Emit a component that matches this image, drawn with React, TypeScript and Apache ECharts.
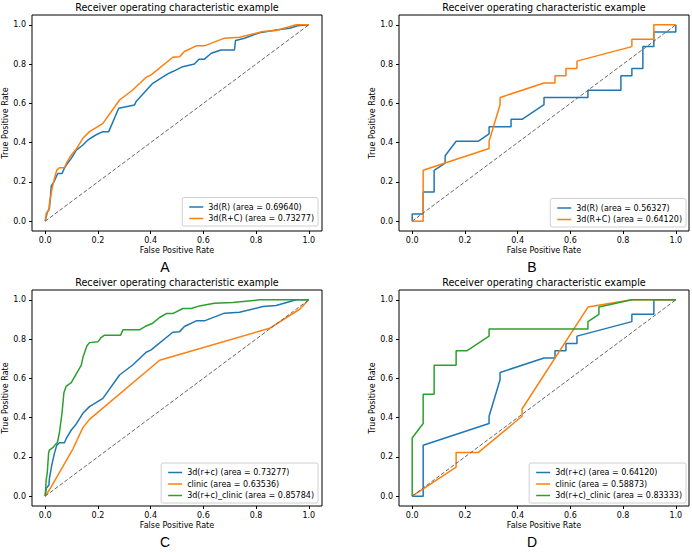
import React, { useEffect, useRef } from "react";
import * as echarts from "echarts";

const TITLE = "Receiver operating characteristic example";
const PANEL_LETTERS = ["A", "B", "C", "D"];
const TICK_VALUES = [0, 0.2, 0.4, 0.6, 0.8, 1.0];
const X_NAME = "False Positive Rate";
const Y_NAME = "True Positive Rate";

const DIAG_FPR = [0, 1];
const DIAG_TPR = [0, 1];

// Panel A: 3d(R) curve (area 0.69640)
const fprA_R = [0, 0.008, 0.016, 0.019, 0.023, 0.033, 0.042, 0.048, 0.064, 0.073, 0.08, 0.099, 0.118, 0.143, 0.162, 0.181, 0.193, 0.219, 0.241, 0.279, 0.339, 0.345, 0.408, 0.465, 0.484, 0.522, 0.566, 0.583, 0.604, 0.63, 0.667, 0.718, 0.722, 0.756, 0.813, 0.876, 0.927, 0.958, 1];
const tprA_R = [0, 0.046, 0.065, 0.107, 0.18, 0.2, 0.226, 0.243, 0.243, 0.27, 0.286, 0.32, 0.362, 0.388, 0.413, 0.43, 0.44, 0.456, 0.456, 0.575, 0.592, 0.609, 0.702, 0.75, 0.762, 0.787, 0.8, 0.825, 0.825, 0.855, 0.872, 0.872, 0.92, 0.932, 0.96, 0.974, 0.983, 0.995, 1];

// 3d(R+C) on the large set (area 0.73277), used in A and C
const fprRC1 = [0, 0.004, 0.014, 0.016, 0.025, 0.035, 0.044, 0.054, 0.073, 0.08, 0.099, 0.115, 0.143, 0.168, 0.193, 0.219, 0.282, 0.332, 0.383, 0.402, 0.484, 0.51, 0.528, 0.573, 0.604, 0.68, 0.737, 0.826, 0.876, 0.952, 1];
const tprRC1 = [0, 0.04, 0.056, 0.09, 0.158, 0.218, 0.26, 0.272, 0.272, 0.294, 0.337, 0.362, 0.422, 0.456, 0.476, 0.498, 0.617, 0.668, 0.733, 0.745, 0.835, 0.838, 0.864, 0.893, 0.893, 0.932, 0.937, 0.966, 0.971, 1, 1];

// Panel B: 3d(R) (area 0.56327)
const fprB_R = [0, 0, 0.0417, 0.0417, 0.0833, 0.0833, 0.125, 0.125, 0.1667, 0.25, 0.2917, 0.2917, 0.375, 0.375, 0.4167, 0.5, 0.5, 0.6667, 0.6667, 0.7917, 0.7917, 0.8333, 0.8333, 0.875, 0.875, 0.9167, 0.9167, 1, 1];
const tprB_R = [0, 0.037, 0.037, 0.148, 0.148, 0.259, 0.296, 0.333, 0.407, 0.407, 0.444, 0.481, 0.481, 0.519, 0.519, 0.593, 0.63, 0.63, 0.667, 0.667, 0.741, 0.741, 0.778, 0.778, 0.889, 0.889, 0.963, 0.963, 1];

// 3d(R+C) on the small set (area 0.64120), used in B and D
const fprRC2 = [0, 0.0417, 0.0417, 0.2917, 0.2917, 0.3333, 0.3333, 0.5, 0.5417, 0.5417, 0.5833, 0.5833, 0.625, 0.625, 0.8333, 0.8333, 0.9167, 0.9167, 1];
const tprRC2 = [0, 0, 0.259, 0.37, 0.407, 0.593, 0.63, 0.704, 0.704, 0.741, 0.741, 0.778, 0.778, 0.815, 0.889, 0.926, 0.926, 1, 1];

// Panel C: clinic (0.63536) and 3d(r+c)_clinic (0.85784)
const fprC_clinic = [0, 0.015, 0.105, 0.143, 0.168, 0.434, 0.851, 0.965, 1];
const tprC_clinic = [0, 0.03, 0.24, 0.349, 0.391, 0.692, 0.855, 0.952, 1];
const fprC_comb = [0, 0.004, 0.008, 0.013, 0.016, 0.029, 0.039, 0.046, 0.054, 0.064, 0.071, 0.08, 0.099, 0.137, 0.143, 0.158, 0.168, 0.2, 0.212, 0.225, 0.286, 0.295, 0.358, 0.383, 0.408, 0.434, 0.459, 0.484, 0.522, 0.554, 0.585, 0.642, 0.712, 0.813, 1];
const tprC_comb = [0, 0.085, 0.12, 0.22, 0.235, 0.247, 0.264, 0.272, 0.323, 0.425, 0.527, 0.561, 0.578, 0.667, 0.706, 0.765, 0.782, 0.786, 0.808, 0.82, 0.82, 0.847, 0.847, 0.867, 0.881, 0.91, 0.93, 0.93, 0.956, 0.956, 0.969, 0.983, 0.986, 1, 1];

// Panel D: clinic (0.58873) and 3d(r+c)_clinic (0.83333)
const fprD_clinic = [0, 0.1667, 0.1667, 0.25, 0.4167, 0.4167, 0.6667, 0.8333, 1];
const tprD_clinic = [0, 0.148, 0.222, 0.222, 0.407, 0.444, 0.963, 1, 1];
const fprD_comb = [0, 0, 0.0417, 0.0417, 0.0833, 0.0833, 0.1667, 0.1667, 0.2083, 0.2917, 0.2917, 0.6667, 0.6667, 0.7083, 0.7083, 0.8333, 1];
const tprD_comb = [0, 0.296, 0.37, 0.519, 0.519, 0.667, 0.667, 0.741, 0.741, 0.815, 0.852, 0.852, 0.889, 0.926, 0.963, 1, 1];

const BLUE = "#1f77b4";
const ORANGE = "#ff7f0e";
const GREEN = "#2ca02c";
const FONT = "DejaVu Sans";

type Curve = { name: string; fpr: number[]; tpr: number[]; color: string };

const PANELS: { curves: Curve[]; left: number; top: number; legRight: number; legBottom: number }[] = [
  {
    left: 32, top: 15, legRight: 374, legBottom: 327,
    curves: [
      { name: "3d(R) (area = 0.69640)", fpr: fprA_R, tpr: tprA_R, color: BLUE },
      { name: "3d(R+C) (area = 0.73277)", fpr: fprRC1, tpr: tprRC1, color: ORANGE },
    ],
  },
  {
    left: 399, top: 15, legRight: 6, legBottom: 326,
    curves: [
      { name: "3d(R) (area = 0.56327)", fpr: fprB_R, tpr: tprB_R, color: BLUE },
      { name: "3d(R+C) (area = 0.64120)", fpr: fprRC2, tpr: tprRC2, color: ORANGE },
    ],
  },
  {
    left: 32, top: 290, legRight: 374, legBottom: 50,
    curves: [
      { name: "3d(r+c) (area = 0.73277)", fpr: fprRC1, tpr: tprRC1, color: BLUE },
      { name: "clinic (area = 0.63536)", fpr: fprC_clinic, tpr: tprC_clinic, color: ORANGE },
      { name: "3d(r+c)_clinic (area = 0.85784)", fpr: fprC_comb, tpr: tprC_comb, color: GREEN },
    ],
  },
  {
    left: 399, top: 290, legRight: 6, legBottom: 50,
    curves: [
      { name: "3d(r+c) (area = 0.64120)", fpr: fprRC2, tpr: tprRC2, color: BLUE },
      { name: "clinic (area = 0.58873)", fpr: fprD_clinic, tpr: tprD_clinic, color: ORANGE },
      { name: "3d(r+c)_clinic (area = 0.83333)", fpr: fprD_comb, tpr: tprD_comb, color: GREEN },
    ],
  },
];

const GRID_W = 290;
const GRID_H = 216;

const zip = (xs: number[], ys: number[]) => xs.map((x, i) => [x, ys[i]]);

export default function App() {
  const ref = useRef<HTMLDivElement>(null);
  useEffect(() => {
    if (!ref.current) return;
    const chart = echarts.init(ref.current, undefined, { renderer: "svg" });
    const textStyle = { fontFamily: FONT, fontSize: 8, color: "#000" };
    const grid: any[] = [];
    const xAxis: any[] = [];
    const yAxis: any[] = [];
    const series: any[] = [];
    const legend: any[] = [];
    const graphic: any[] = [];
    PANELS.forEach((p, i) => {
      grid.push({ left: p.left, top: p.top, width: GRID_W, height: GRID_H, show: true, borderColor: "#000", borderWidth: 1, backgroundColor: "transparent" });
      xAxis.push({
        gridIndex: i, type: "value", min: -0.05, max: 1.05,
        axisLine: { show: false, onZero: false },
        splitLine: { show: false },
        axisTick: { show: true, length: 3, lineStyle: { color: "#000" }, customValues: TICK_VALUES },
        axisLabel: { ...textStyle, margin: 5, customValues: TICK_VALUES, formatter: (v: number) => v.toFixed(1) },
        name: X_NAME, nameLocation: "middle", nameGap: 15, nameTextStyle: textStyle,
      });
      yAxis.push({
        gridIndex: i, type: "value", min: -0.05, max: 1.05,
        axisLine: { show: false, onZero: false },
        splitLine: { show: false },
        axisTick: { show: true, length: 3, lineStyle: { color: "#000" }, customValues: TICK_VALUES },
        axisLabel: { ...textStyle, margin: 6, customValues: TICK_VALUES, formatter: (v: number) => v.toFixed(1) },
        name: Y_NAME, nameLocation: "middle", nameGap: 22, nameTextStyle: textStyle,
      });
      p.curves.forEach((c) => {
        series.push({
          type: "line", name: c.name, xAxisIndex: i, yAxisIndex: i,
          data: zip(c.fpr, c.tpr), symbol: "none", showSymbol: false,
          lineStyle: { color: c.color, width: 1.5 }, itemStyle: { color: c.color },
          silent: true,
        });
      });
      series.push({
        type: "line", xAxisIndex: i, yAxisIndex: i, data: zip(DIAG_FPR, DIAG_TPR),
        symbol: "none", lineStyle: { color: "#666", width: 1, type: [4, 2] }, silent: true,
      });
      legend.push({
        orient: "vertical", right: p.legRight, bottom: p.legBottom,
        padding: [5, 4, 3, 7], itemGap: 2.5, itemWidth: 14, itemHeight: 1.5, icon: "rect",
        borderColor: "#d0d0d0", borderWidth: 1, borderRadius: 2, backgroundColor: "rgba(255,255,255,0.8)",
        textStyle: { ...textStyle, lineHeight: 9 },
        selectedMode: false,
        data: p.curves.map((c) => c.name),
      });
      const cx = p.left + GRID_W / 2;
      graphic.push({
        type: "text", x: cx, y: p.top - 8,
        style: { text: TITLE, fontFamily: FONT, fontSize: 9.6, fill: "#000", textAlign: "center", textVerticalAlign: "middle" },
      });
      graphic.push({
        type: "text", x: cx - 12, y: p.top + GRID_H + 36,
        style: { text: PANEL_LETTERS[i], fontFamily: "Liberation Sans", fontSize: 14, fill: "#000", textAlign: "center", textVerticalAlign: "middle" },
      });
    });
    chart.setOption({ animation: false, backgroundColor: "#fff", grid, xAxis, yAxis, series, legend, graphic });
    return () => chart.dispose();
  }, []);
  return <div ref={ref} style={{ position: "absolute", left: 0, top: 0, width: 692, height: 553 }} />;
}
